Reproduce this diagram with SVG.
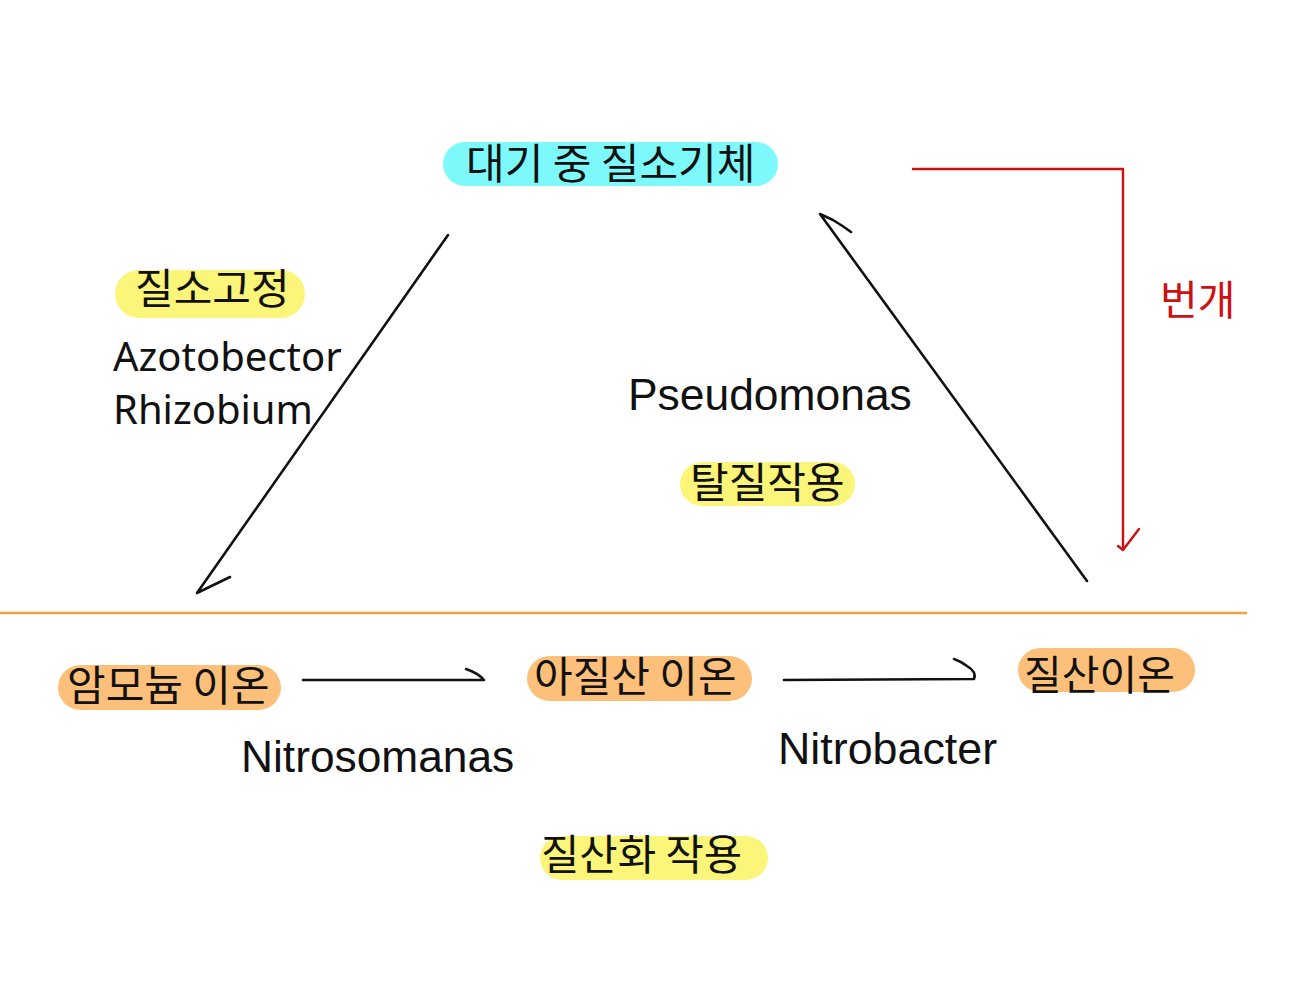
<svg xmlns="http://www.w3.org/2000/svg" width="1303" height="1000" viewBox="0 0 1303 1000">
<style>
.ko{font-family:"Noto Sans CJK KR","Noto Sans",sans-serif;fill:#111}
.la{font-family:"Liberation Sans",Arial,sans-serif;fill:#111}
.ns{font-family:"Noto Sans","Open Sans",sans-serif;fill:#111}
.ln{fill:none;stroke:#111;stroke-width:2.6;stroke-linecap:round;stroke-linejoin:round}
.red{fill:none;stroke:#cc1111;stroke-width:2.4;stroke-linecap:round;stroke-linejoin:round}
.cyan{fill:#7df9fb}
.yel{fill:#fbf57a}
.org{fill:#fdc07a}
</style>
<rect width="1303" height="1000" fill="#fff"/>
<g id="atmos">
<rect class="cyan" x="443" y="142" width="335" height="44" rx="22"/>
<text class="ko" x="466" y="179" font-size="42">대기 중 질소기체</text>
</g>
<g id="fixation">
<rect class="yel" x="115" y="270" width="190" height="48" rx="24"/>
<text class="ko" x="135" y="304" font-size="42">질소고정</text>
<text class="ns" x="113" y="371" font-size="40">Azotobector</text>
<text class="ns" x="113" y="424" font-size="40">Rhizobium</text>
</g>
<g id="denitrification">
<text class="la" x="628" y="410" font-size="44.4">Pseudomonas</text>
<rect class="yel" x="680" y="462" width="175" height="44" rx="22"/>
<text class="ko" x="690" y="498" font-size="42">탈질작용</text>
</g>
<g id="lightning">
<text x="1160" y="315" font-size="41" font-family="Noto Sans CJK KR,sans-serif" fill="#cc1111">번개</text>
</g>
<g id="ammonium">
<rect class="org" x="58" y="665" width="223" height="45" rx="22.5"/>
<text class="ko" x="67" y="701" font-size="42">암모늄 이온</text>
</g>
<g id="nitrite">
<rect class="org" x="527" y="656" width="225" height="45" rx="22.5"/>
<text class="ko" x="534" y="692" font-size="42">아질산 이온</text>
</g>
<g id="nitrate">
<rect class="org" x="1018" y="648" width="177" height="44" rx="22"/>
<text class="ko" x="1024" y="690" font-size="41">질산이온</text>
</g>
<g id="nitrifiers">
<text class="la" x="241" y="772" font-size="44.3">Nitrosomanas</text>
<text class="la" x="778" y="764" font-size="44.8">Nitrobacter</text>
<rect class="yel" x="540" y="836" width="228" height="44" rx="22"/>
<text class="ko" x="541" y="870" font-size="41.7">질산화 작용</text>
</g>
<line x1="0" y1="613" x2="1247" y2="613" stroke="#f0a33c" stroke-width="2.4"/>
<g id="connectors">
<path class="ln" d="M448,235 L197,593 L230,577"/>
<path class="ln" d="M1087,581 L820,214 L833,220 Q843,226 851,232"/>
<path class="ln" d="M303,680 L484,680 Q478,673 466,669"/>
<path class="ln" d="M784,680 L974,679 Q977,672 967,666 Q960,661 954,659"/>
<path class="red" d="M913,169 L1123,169 L1123,549"/>
<path class="red" d="M1118,546 L1123,550 L1139,529"/>
</g>
</svg>
